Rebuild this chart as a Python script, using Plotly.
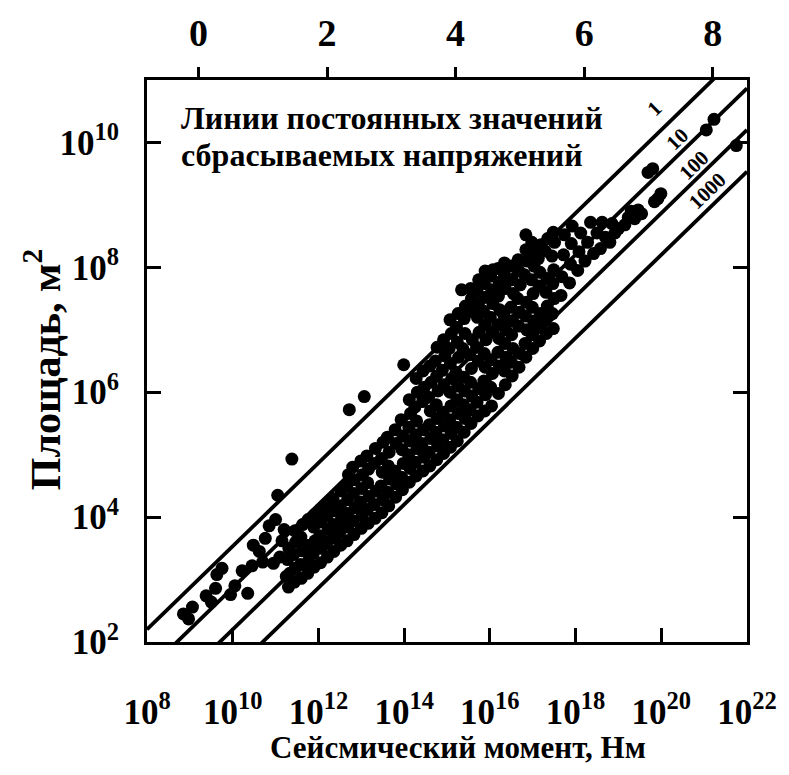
import numpy as np
import plotly.graph_objects as go

# Earthquake catalogue, as (log10 seismic moment [N*m], log10 rupture area [m^2]),
# grouped by moment range.
MICRO_EVENTS = [
    (8.85, 2.45), (8.97, 2.37), (9.06, 2.56), (9.38, 2.74), (9.50, 2.64), (9.60, 2.86), (9.63, 3.08),
    (9.75, 3.18), (9.95, 2.76), (10.05, 2.90), (10.22, 3.14), (10.35, 2.78), (10.45, 3.22), (10.48, 3.55),
    (10.62, 3.45), (10.70, 3.28), (10.76, 3.66), (10.85, 3.86), (10.95, 3.26), (11.00, 3.96), (11.05, 4.35),
    (11.10, 3.36), (11.15, 3.62), (11.20, 3.80), (11.38, 4.93), (11.25, 3.05),
]
SMALL_EVENTS = [
    (11.30, 2.88), (11.33, 3.10), (11.28, 3.32), (11.31, 3.50),
    (11.44, 2.96), (11.46, 3.18), (11.42, 3.40), (11.47, 3.60), (11.45, 3.78),
    (11.60, 3.02), (11.58, 3.24), (11.62, 3.46), (11.59, 3.68), (11.63, 3.88),
    (11.75, 3.10), (11.77, 3.30), (11.73, 3.55), (11.76, 3.96),
    (11.90, 3.20), (11.88, 3.42), (11.92, 3.62), (11.89, 3.84), (11.91, 4.04),
    (12.05, 3.27), (12.07, 3.50), (12.03, 3.70), (12.06, 3.92), (12.04, 4.12),
    (12.21, 3.36), (12.19, 3.58), (12.23, 3.80), (12.20, 4.02), (12.22, 4.20),
    (12.36, 3.45), (12.38, 3.66), (12.35, 3.88), (12.37, 4.10), (12.34, 4.30),
    (12.52, 3.55), (12.50, 3.76), (12.54, 3.98), (12.51, 4.18), (12.53, 4.42),
    (12.67, 3.62), (12.69, 3.84), (12.65, 4.06), (12.68, 4.28), (12.66, 4.50), (12.70, 4.68),
    (12.83, 3.72), (12.81, 3.94), (12.85, 4.15), (12.82, 4.38), (12.84, 4.60), (12.80, 4.80),
    (12.72, 5.72),
]
MODERATE_EVENTS = [
    (13.00, 3.82), (13.02, 4.02), (12.98, 4.24), (13.01, 4.46), (13.03, 4.68), (12.99, 4.90),
    (13.16, 3.90), (13.14, 4.12), (13.18, 4.33), (13.15, 4.55), (13.17, 4.77), (13.13, 4.98),
    (13.32, 3.98), (13.30, 4.20), (13.34, 4.42), (13.31, 4.86), (13.33, 5.10),
    (13.48, 4.07), (13.50, 4.28), (13.46, 4.50), (13.49, 4.72), (13.47, 4.94), (13.51, 5.20),
    (13.64, 4.18), (13.62, 4.40), (13.66, 4.61), (13.63, 4.82), (13.65, 5.04), (13.61, 5.28),
    (13.80, 4.32), (13.82, 4.53), (13.78, 4.74), (13.81, 5.18), (13.79, 5.40),
    (13.96, 4.44), (13.94, 4.64), (13.98, 4.86), (13.95, 5.08), (13.97, 5.30), (13.93, 5.56),
    (14.12, 4.56), (14.14, 4.78), (14.10, 5.00), (14.13, 5.22), (14.11, 5.44), (14.15, 5.66), (14.12, 5.88),
    (14.28, 4.66), (14.26, 4.88), (14.30, 5.10), (14.27, 5.32), (14.29, 5.54), (14.25, 5.76), (14.31, 6.00), (14.28, 6.22),
    (14.44, 4.74), (14.46, 4.96), (14.42, 5.18), (14.45, 5.40), (14.43, 5.85), (14.47, 6.08), (14.44, 6.34),
    (14.60, 4.82), (14.58, 5.04), (14.62, 5.26), (14.59, 5.48), (14.61, 5.70), (14.57, 5.92), (14.63, 6.16), (14.60, 6.42),
    (14.76, 4.92), (14.78, 5.14), (14.74, 5.36), (14.77, 5.58), (14.75, 5.80), (14.79, 6.02), (14.76, 6.26), (14.73, 6.50), (14.77, 6.72),
    (14.92, 5.02), (14.90, 5.24), (14.94, 5.46), (14.91, 5.68), (14.93, 6.12), (14.89, 6.35), (14.95, 6.58), (14.92, 6.84),
    (13.07, 5.93), (13.99, 6.44),
]
LARGE_EVENTS = [
    (15.08, 5.12), (15.10, 5.34), (15.06, 5.56), (15.09, 5.78), (15.07, 6.00), (15.11, 6.22), (15.08, 6.46), (15.05, 6.70), (15.10, 6.94), (15.07, 7.16),
    (15.24, 5.22), (15.22, 5.44), (15.26, 5.66), (15.23, 5.88), (15.25, 6.10), (15.21, 6.32), (15.27, 6.56), (15.24, 6.80), (15.22, 7.04), (15.26, 7.26),
    (15.40, 5.36), (15.42, 5.58), (15.38, 5.80), (15.41, 6.02), (15.39, 6.24), (15.37, 6.70), (15.42, 6.94), (15.40, 7.18), (15.43, 7.38),
    (15.56, 5.50), (15.54, 5.72), (15.58, 5.94), (15.55, 6.16), (15.57, 6.38), (15.53, 6.60), (15.59, 6.84), (15.54, 7.30), (15.57, 7.50), (15.55, 7.66),
    (15.72, 5.62), (15.70, 5.84), (15.74, 6.06), (15.73, 6.50), (15.69, 6.72), (15.75, 6.96), (15.71, 7.20), (15.73, 7.42), (15.70, 7.62), (15.74, 7.80),
    (15.88, 5.70), (15.90, 5.96), (15.86, 6.18), (15.89, 6.40), (15.87, 6.62), (15.91, 6.84), (15.88, 7.08), (15.85, 7.30), (15.90, 7.52), (15.87, 7.74), (15.89, 7.94),
    (16.04, 5.78), (16.02, 6.08), (16.06, 6.30), (16.03, 6.52), (16.05, 6.96), (16.01, 7.20), (16.07, 7.42), (16.04, 7.64), (16.02, 7.86), (16.07, 7.96),
    (16.20, 5.98), (16.22, 6.42), (16.19, 6.64), (16.21, 6.86), (16.18, 7.08), (16.23, 7.32), (16.20, 7.54), (16.22, 7.76), (16.19, 7.98),
    (16.36, 6.12), (16.34, 6.34), (16.38, 6.56), (16.35, 6.78), (16.37, 7.00), (16.33, 7.22), (16.36, 7.66), (16.34, 7.88), (16.34, 8.07),
    (16.52, 6.26), (16.50, 6.48), (16.54, 6.70), (16.51, 6.92), (16.53, 7.14), (16.49, 7.36), (16.55, 7.58), (16.52, 7.80), (16.50, 8.02),
    (16.68, 6.40), (16.70, 6.62), (16.67, 7.06), (16.69, 7.28), (16.65, 7.50), (16.71, 7.72), (16.68, 7.94), (16.66, 8.12),
    (16.84, 6.56), (16.82, 6.78), (16.86, 7.00), (16.83, 7.22), (16.85, 7.44), (16.81, 7.88), (16.87, 8.10), (16.84, 8.28),
    (17.00, 6.70), (16.98, 6.92), (17.02, 7.14), (16.99, 7.36), (17.01, 7.58), (16.97, 7.80), (17.03, 8.02), (17.00, 8.22), (16.98, 8.40),
    (17.16, 6.82), (17.14, 7.04), (17.18, 7.26), (17.15, 7.70), (17.17, 7.92), (17.13, 8.14), (17.19, 8.36),
    (17.32, 6.94), (17.30, 7.16), (17.34, 7.38), (17.31, 7.60), (17.33, 7.82), (17.29, 8.26), (17.35, 8.46),
    (17.48, 7.02), (17.46, 7.26), (17.50, 7.50), (17.47, 7.74), (17.49, 7.96), (17.45, 8.18), (17.51, 8.40), (17.48, 8.56),
    (15.34, 7.64), (16.84, 8.52),
]
GREAT_EVENTS = [
    (17.66, 7.55), (17.68, 7.85), (17.72, 8.20), (17.74, 8.52), (17.86, 7.75), (17.88, 8.05), (17.90, 8.38),
    (17.92, 8.66), (18.05, 7.95), (18.08, 8.25), (18.12, 8.55), (18.22, 8.10), (18.28, 8.40), (18.35, 8.72),
    (18.42, 8.22), (18.50, 8.55), (18.58, 8.30), (18.62, 8.72), (18.70, 8.48), (18.80, 8.40), (18.85, 8.70),
    (18.92, 8.55), (19.00, 8.62), (19.15, 8.68), (19.23, 8.80), (19.30, 8.90), (19.38, 8.78), (19.46, 8.92),
    (19.54, 8.86), (19.69, 9.52), (19.80, 9.58), (19.84, 9.05), (19.92, 9.10), (19.99, 9.18), (21.05, 10.20),
    (21.23, 10.37), (21.75, 9.95),
]

# Constant stress-drop lines (bars) and their labels
STRESS_DROPS = [1, 10, 100, 1000]
STRESS_LABELS = ["1", "10", "100", "1000"]

X_TICK_EXP = [8, 10, 12, 14, 16, 18, 20, 22]
Y_TICK_EXP = [2, 4, 6, 8, 10]
MAG_TICKS = [0, 2, 4, 6, 8]

SHAPE_C = 2.0          # stress drop = C * M0 / A^1.5
MAG_OFFSET = 9.2       # log10 M0 = 1.5 * Mw + offset
X_RANGE = [8, 22]
Y_RANGE = [2, 11]

FONT = "Liberation Serif"

events = MICRO_EVENTS + SMALL_EVENTS + MODERATE_EVENTS + LARGE_EVENTS + GREAT_EVENTS
moment = [10.0 ** lm for lm, la in events]
area = [10.0 ** la for lm, la in events]

fig = go.Figure()

lm_line = np.linspace(X_RANGE[0], X_RANGE[1], 60)
for ds in STRESS_DROPS:
    m0 = 10.0 ** lm_line
    a = (SHAPE_C * m0 / (ds * 1e5)) ** (2.0 / 3.0)
    fig.add_trace(go.Scatter(x=m0, y=a, mode="lines",
                             line=dict(color="black", width=3.8),
                             hoverinfo="skip", showlegend=False))

fig.add_trace(go.Scatter(x=moment, y=area, mode="markers",
                         marker=dict(color="black", size=13, line=dict(width=0)),
                         showlegend=False))

# invisible trace that carries the magnitude (top) axis
mag_range = [(X_RANGE[0] - MAG_OFFSET) / 1.5, (X_RANGE[1] - MAG_OFFSET) / 1.5]
fig.add_trace(go.Scatter(x=mag_range, y=[10.0 ** Y_RANGE[0]] * 2, xaxis="x2",
                         mode="markers", marker=dict(opacity=0),
                         hoverinfo="skip", showlegend=False))

tick_font = dict(family=FONT, size=35, color="black", weight="bold")

fig.update_layout(
    width=789, height=775,
    margin=dict(l=147, r=36, t=80, b=133),
    paper_bgcolor="white", plot_bgcolor="white",
    showlegend=False,
    xaxis=dict(
        type="log", range=X_RANGE,
        tickvals=[10.0 ** e for e in X_TICK_EXP],
        ticktext=[f"10<sup>{e}</sup>" for e in X_TICK_EXP],
        ticks="inside", ticklen=14, tickwidth=2.5, tickcolor="black",
        showline=True, linewidth=3, linecolor="black", mirror=False,
        showgrid=False, zeroline=False,
        tickfont=tick_font, ticklabelstandoff=37,
    ),
    xaxis2=dict(
        overlaying="x", side="top", anchor="y", range=mag_range,
        tickvals=MAG_TICKS, ticktext=[str(v) for v in MAG_TICKS],
        ticks="outside", ticklen=10, tickwidth=2.5, tickcolor="black",
        showline=True, linewidth=3, linecolor="black",
        showgrid=False, zeroline=False,
        tickfont=dict(family=FONT, size=38, color="black", weight="bold"),
        ticklabelstandoff=6,
    ),
    yaxis=dict(
        type="log", range=Y_RANGE,
        tickvals=[10.0 ** e for e in Y_TICK_EXP],
        ticktext=[f"10<sup>{e}</sup>" for e in Y_TICK_EXP],
        ticks="inside", ticklen=14, tickwidth=2.5, tickcolor="black",
        showline=True, linewidth=3, linecolor="black", mirror="ticks",
        showgrid=False, zeroline=False,
        tickfont=tick_font, ticklabelstandoff=18,
    ),
)

annotations = [
    dict(text="Сейсмический момент, Нм", xref="paper", yref="paper",
         x=0.518, y=-0.1886, xanchor="center", yanchor="middle", showarrow=False,
         font=dict(family=FONT, size=31, color="black", weight="bold")),
    dict(text="Площадь, м<sup>2</sup>", xref="paper", yref="paper",
         x=-0.173, y=0.484, xanchor="center", yanchor="middle",
         textangle=-90, showarrow=False,
         font=dict(family=FONT, size=42, color="black", weight="bold")),
    dict(text="Линии постоянных значений",
         xref="paper", yref="paper", x=0.054, y=0.9324,
         xanchor="left", yanchor="middle", showarrow=False,
         font=dict(family=FONT, size=32, color="black", weight="bold")),
    dict(text="сбрасываемых напряжений",
         xref="paper", yref="paper", x=0.054, y=0.8665,
         xanchor="left", yanchor="middle", showarrow=False,
         font=dict(family=FONT, size=32, color="black", weight="bold")),
]

# stress-drop labels placed along their lines
label_pos = [(19.85, 10.55), (20.38, 10.05), (20.77, 9.64), (21.07, 9.23)]
for txt, (lx, ly) in zip(STRESS_LABELS, label_pos):
    annotations.append(dict(text=txt, xref="x", yref="y", x=lx, y=ly,
                            textangle=-44, showarrow=False,
                            font=dict(family=FONT, size=21, color="black", weight="bold")))

fig.update_layout(annotations=annotations)

fig.write_html("out.html")
